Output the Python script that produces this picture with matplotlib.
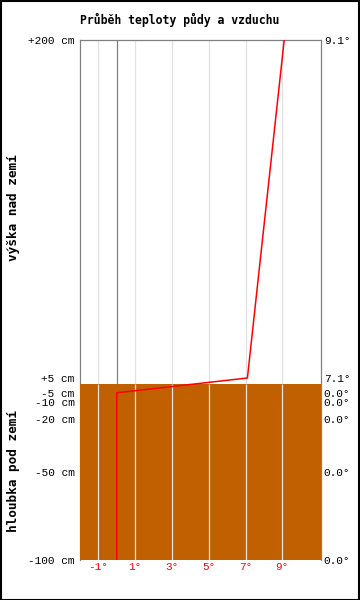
import numpy as np
import matplotlib
matplotlib.use("Agg")
import matplotlib.pyplot as plt
from matplotlib.patches import Rectangle

# measurement heights (cm) and temperatures (deg C)
heights = [200, 5, -5, -10, -20, -50, -100]
temps = [9.1, 7.1, 0.0, 0.0, 0.0, 0.0, 0.0]
height_labels = ["+200 cm", "+5 cm", "-5 cm", "-10 cm", "-20 cm", "-50 cm", "-100 cm"]
temp_labels = ["9.1°", "7.1°", "0.0°", "0.0°", "0.0°", "0.0°", "0.0°"]
xticks = [-1, 1, 3, 5, 7, 9]
xtick_labels = ["-1°", "1°", "3°", "5°", "7°", "9°"]

plt.rcParams["axes.unicode_minus"] = False
mono = "Liberation Mono"

# piecewise scale: ground is stretched differently from the air part
knots_cm = [-100, 0, 5, 200]
knots_px = [0, 176, 182, 520]

def fwd(y):
    return np.interp(y, knots_cm, knots_px)

def inv(v):
    return np.interp(v, knots_px, knots_cm)

W, H = 360, 600
fig = plt.figure(figsize=(W / 100, H / 100), dpi=100)
ax = fig.add_axes([80 / W, 40 / H, 241 / W, 520 / H])
ax.set_yscale("function", functions=(fwd, inv))
ax.set_ylim(-100, 200)
ax.set_xlim(-2, 11.1)

# ground drawn over the spines, grid on top of it
ax.vlines(xticks, 0, 200, colors="#e0e0e0", lw=0.9, zorder=1)
ax.vlines([0], 0, 200, colors="#808080", lw=0.9, zorder=1.2)
ax.axhspan(-100, 0, color="#c06000", zorder=2.6, lw=0)
ax.vlines(xticks, -100, 0, colors="#e4e4e4", lw=0.9, zorder=2.7)
ax.plot(temps, heights, color="#ff0000", lw=1.1, zorder=3)

for s in ax.spines.values():
    s.set_color("#808080")
    s.set_linewidth(0.9)
ax.spines["bottom"].set_visible(False)

ax.set_xticks(xticks)
ax.set_xticklabels(xtick_labels, color="#ff0000", family=mono, fontsize=8)
ax.set_yticks(heights)
ax.set_yticklabels(height_labels, family=mono, fontsize=8)
ax.tick_params(axis="y", length=0, pad=4)
ax.tick_params(axis="x", length=0, pad=1.5)
ax.yaxis.set_minor_locator(matplotlib.ticker.NullLocator())

ax2 = ax.twinx()
ax2.set_yscale("function", functions=(fwd, inv))
ax2.set_ylim(-100, 200)
ax2.set_yticks(heights)
ax2.set_yticklabels(temp_labels, family=mono, fontsize=8)
ax2.tick_params(length=0, pad=2)
ax2.yaxis.set_minor_locator(matplotlib.ticker.NullLocator())
for s in ax2.spines.values():
    s.set_visible(False)

fig.text(180 / W, 1 - 20 / H, "Průběh teploty půdy a vzduchu", ha="center", va="center",
         family="DejaVu Sans Mono", fontweight="bold", fontsize=8.3)
fig.text(14 / W, 1 - 208 / H, "výška nad zemí", rotation=90, ha="center", va="center",
         family="DejaVu Sans Mono", fontweight="bold", fontsize=9.2)
fig.text(14 / W, 1 - 471 / H, "hloubka pod zemí", rotation=90, ha="center", va="center",
         family="DejaVu Sans Mono", fontweight="bold", fontsize=9.2)

fig.patches.append(Rectangle((0.5 / W, 0.5 / H), 1 - 1.5 / W, 1 - 1.5 / H, transform=fig.transFigure,
                             fill=False, edgecolor="black", lw=1.5))

fig.savefig("out.png", dpi=100)
